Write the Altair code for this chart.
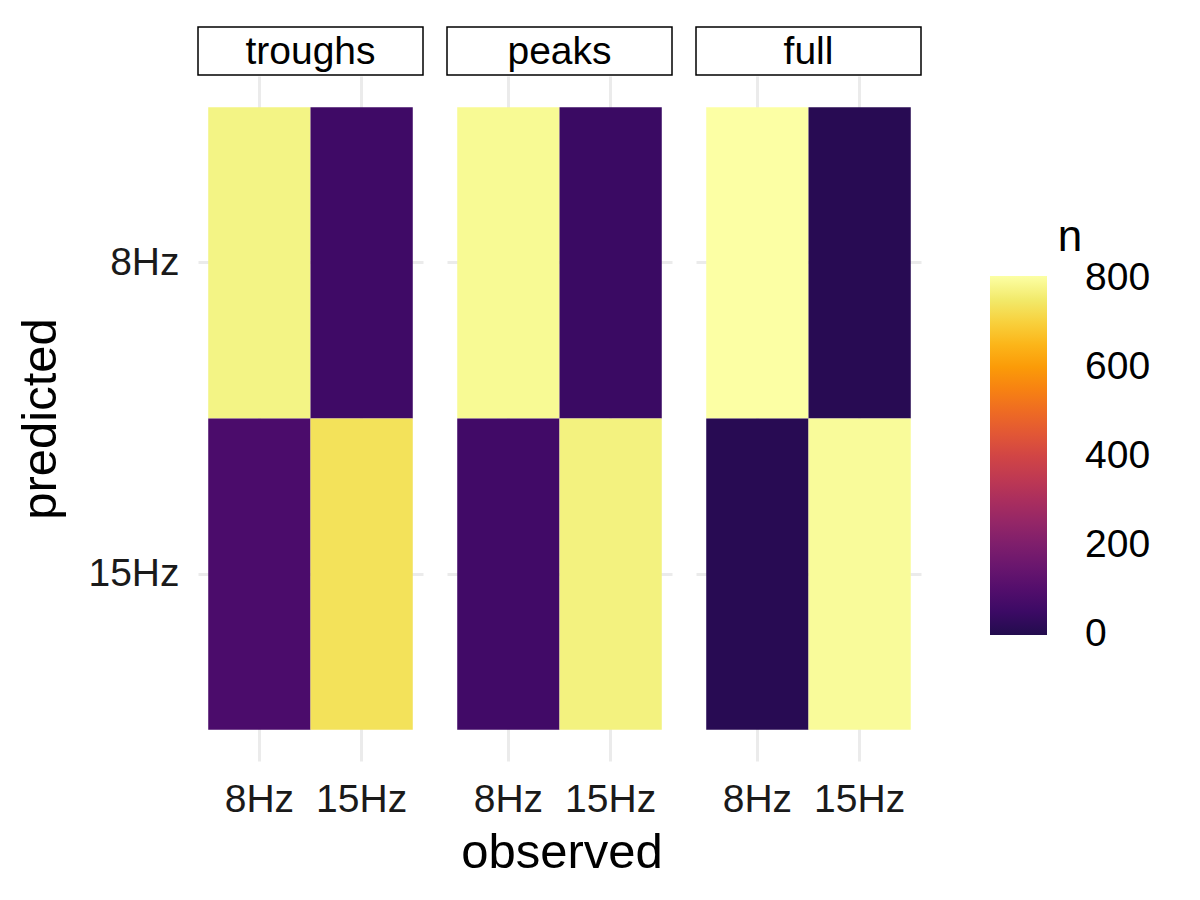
import altair as alt
import pandas as pd

models = ["troughs", "peaks", "full"]
levels = ["8Hz", "15Hz"]
observed = ["8Hz", "8Hz", "15Hz", "15Hz"]
predicted = ["8Hz", "15Hz", "8Hz", "15Hz"]
n_troughs = [775, 82, 55, 735]
n_peaks = [790, 60, 45, 770]
n_full = [805, 8, 8, 795]

rows = []
for m, vals in zip(models, [n_troughs, n_peaks, n_full]):
    for o, p, v in zip(observed, predicted, vals):
        rows.append({"model": m, "observed": o, "predicted": p, "n": v})
df = pd.DataFrame(rows)

FONT = "Liberation Sans"
W, H = 225, 685

heat = alt.Chart().mark_rect().encode(
    x=alt.X("observed:N", sort=levels, title="",
            scale=alt.Scale(paddingInner=0, paddingOuter=0.1),
            axis=alt.Axis(bandPosition=0.5, grid=True, ticks=False, domain=False,
                          labelAngle=0, labelPadding=19, zindex=0)),
    y=alt.Y("predicted:N", sort=levels, title="predicted",
            scale=alt.Scale(paddingInner=0, paddingOuter=0.1),
            axis=alt.Axis(bandPosition=0.5, grid=True, ticks=False, domain=False,
                          labelPadding=18, titlePadding=22, zindex=0)),
    color=alt.Color("n:Q",
                    scale=alt.Scale(scheme=alt.SchemeParams(name="inferno", extent=[0.13, 1]),
                                    domain=[-3, 805], nice=False),
                    legend=alt.Legend(title="n", values=[0, 200, 400, 600, 800],
                                      gradientLength=359, gradientThickness=57,
                                      titleFontSize=44, labelFontSize=39,
                                      titleFont=FONT, labelFont=FONT,
                                      titleFontWeight="normal", titleColor="black",
                                      labelColor="black",
                                      titleAnchor="middle", titlePadding=16,
                                      labelOffset=38, gradientStrokeWidth=0,
                                      orient="none", legendX=792, legendY=140,
                                      padding=0)),
)

strip_box = alt.Chart().mark_rect(fill="white", stroke="black", strokeWidth=1.5).encode(
    x=alt.value(0), x2=alt.value(W), y=alt.value(-49), y2=alt.value(-1)
).transform_filter((alt.datum.observed == "8Hz") & (alt.datum.predicted == "8Hz"))

strip_text = alt.Chart().mark_text(fontSize=39, font=FONT, baseline="middle", align="center",
                                   color="black").encode(
    x=alt.value(W / 2), y=alt.value(-24), text="model:N"
).transform_filter((alt.datum.observed == "8Hz") & (alt.datum.predicted == "8Hz"))

chart = alt.layer(heat, strip_box, strip_text, data=df).properties(
    width=W, height=H
).facet(
    column=alt.Column("model:N", sort=models, header=alt.Header(labels=False, title=""))
).properties(
    spacing=22,
    padding={"left": 16, "top": 26, "right": 5, "bottom": 5},
    title=alt.TitleParams("observed", orient="bottom", anchor="middle", fontSize=49,
                          font=FONT, fontWeight="normal", color="black", offset=10,
                          dx=-22),
).configure(background="white").configure_view(stroke=None).configure_axis(
    labelFont=FONT, titleFont=FONT, labelFontSize=39, titleFontSize=49,
    titleFontWeight="normal", labelColor="#1a1a1a", titleColor="black",
    gridColor="#ebebeb", gridWidth=3
)

chart.save("out.html", embed_options={"renderer": "svg", "actions": False})
